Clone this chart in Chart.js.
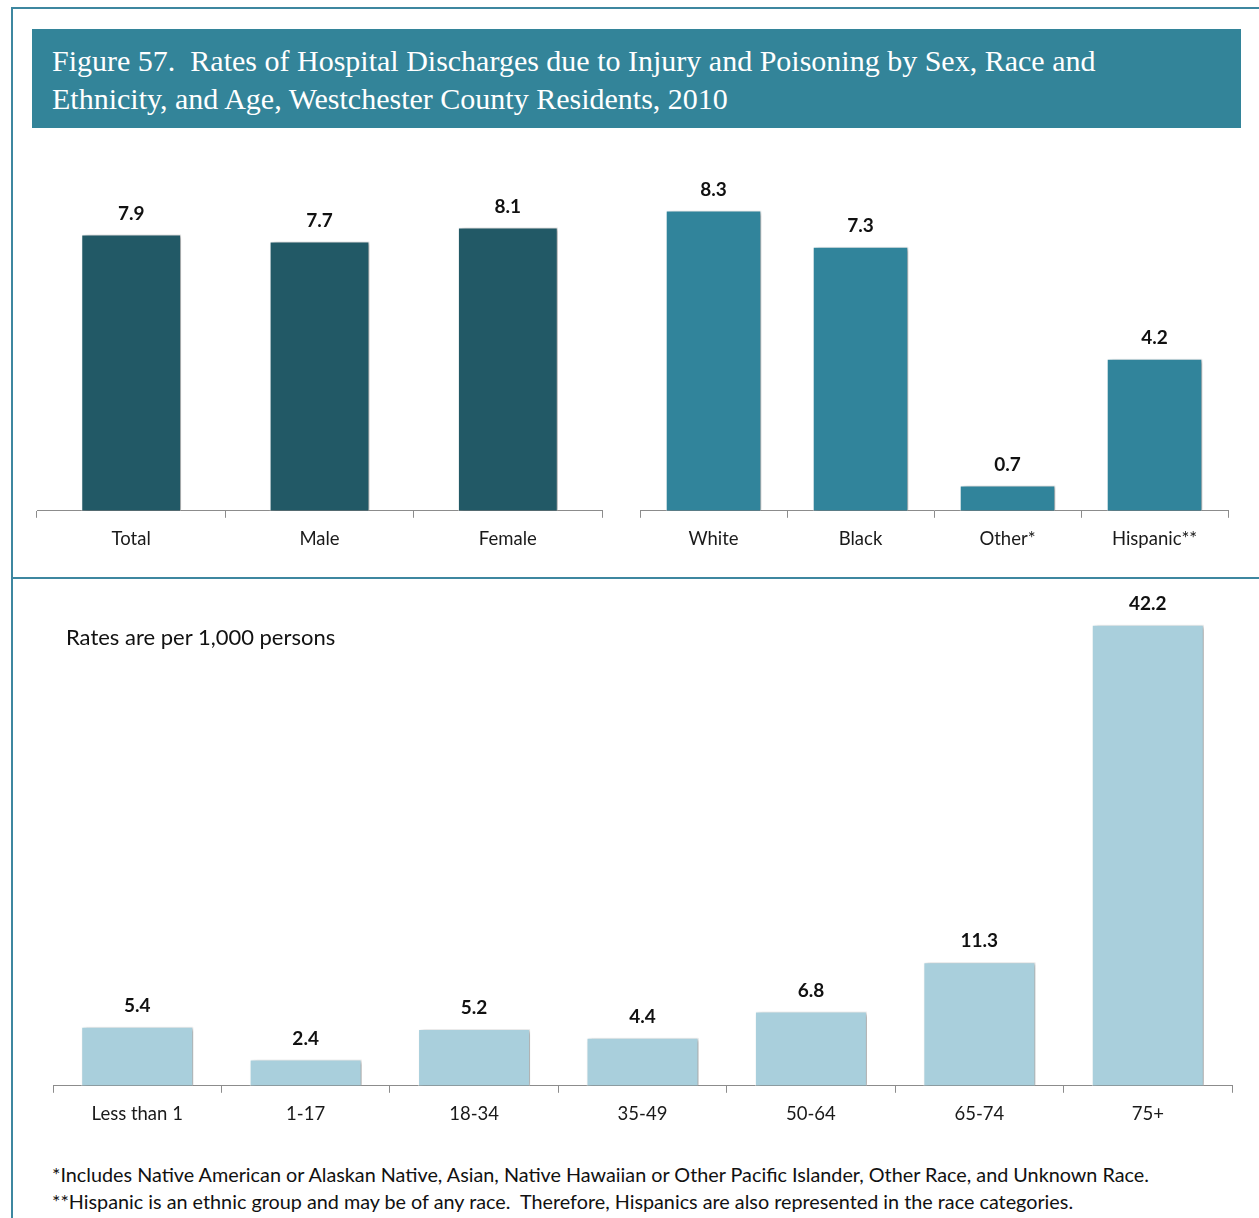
<!DOCTYPE html>
<html>
<head>
<meta charset="utf-8">
<script src="https://cdn.jsdelivr.net/npm/chart.js@4"></script>
<style>
  body { margin: 0; background: #fff; }
  #page { position: relative; width: 1259px; height: 1218px; overflow: hidden; font-family: Lato, "Open Sans", sans-serif; }
  .line { position: absolute; background: #3d87a0; }
  #title { position: absolute; left: 32px; top: 29px; width: 1209px; height: 99px; background: #338499; color: #fff;
           font-family: "Liberation Serif", serif; font-size: 30px; line-height: 38px; box-sizing: border-box; padding: 13px 0 0 20px; }
  .box { position: absolute; }
  #note { position: absolute; left: 66px; top: 623px; font-size: 22px; color: #111; }
  #foot { position: absolute; left: 52px; top: 1161px; font-size: 19.8px; line-height: 27px; color: #111; }
</style>
</head>
<body>
<div id="page">
  <div class="line" style="left:12px; top:7px; width:1247px; height:2px;"></div>
  <div class="line" style="left:11px; top:7px; width:2px; height:1211px;"></div>
  <div class="line" style="left:12px; top:577px; width:1247px; height:2px;"></div>
  <div id="title">Figure 57.&nbsp; Rates of Hospital Discharges due to Injury and Poisoning by Sex, Race and<br>Ethnicity, and Age, Westchester County Residents, 2010</div>

  <div class="box" style="left:30px; top:161px; width:580px; height:400px;"><canvas id="chSex"></canvas></div>
  <div class="box" style="left:630px; top:161px; width:610px; height:400px;"><canvas id="chRace"></canvas></div>
  <div class="box" style="left:40px; top:581px; width:1210px; height:555px;"><canvas id="chAge"></canvas></div>

  <div id="note">Rates are per 1,000 persons</div>
  <div id="foot">*Includes Native American or Alaskan Native, Asian, Native Hawaiian or Other Pacific Islander, Other Race, and Unknown Race.<br>**Hispanic is an ethnic group and may be of any race.&nbsp; Therefore, Hispanics are also represented in the race categories.</div>
</div>

<script>
var sexLabels = ['Total', 'Male', 'Female'];
var sexRates = [7.9, 7.7, 8.1];

var raceLabels = ['White', 'Black', 'Other*', 'Hispanic**'];
var raceRates = [8.3, 7.3, 0.7, 4.2];

var ageLabels = ['Less than 1', '1-17', '18-34', '35-49', '50-64', '65-74', '75+'];
var ageRates = [5.4, 2.4, 5.2, 4.4, 6.8, 11.3, 42.2];

// soft shadow to the right of the bars, like the original
var barShadow = {
    id: 'barShadow',
    beforeDatasetsDraw: function (chart) {
        var ctx = chart.ctx;
        ctx.save();
        ctx.shadowColor = 'rgba(0,0,0,0.35)';
        ctx.shadowOffsetX = 3;
        ctx.shadowOffsetY = 1;
        ctx.shadowBlur = 4;
    },
    afterDatasetsDraw: function (chart) {
        chart.ctx.restore();
    }
};

// value labels above the bars
var valueLabels = {
    id: 'valueLabels',
    afterDraw: function (chart) {
        var ctx = chart.ctx;
        var meta = chart.getDatasetMeta(0);
        var vals = chart.data.datasets[0].data;
        ctx.save();
        ctx.font = 'bold 19px Lato, "Open Sans", sans-serif';
        ctx.fillStyle = '#111';
        ctx.textAlign = 'center';
        ctx.textBaseline = 'middle';
        meta.data.forEach(function (bar, i) {
            ctx.fillText(vals[i].toFixed(1), bar.x, bar.y - 21);
        });
        ctx.restore();
    }
};

function makeBar(id, labels, values, color, barPct, yMax, pad) {
    return new Chart(document.getElementById(id), {
        type: 'bar',
        data: {
            labels: labels,
            datasets: [{
                data: values,
                backgroundColor: color,
                borderColor: '#fff',
                borderWidth: { right: 1, top: 1, left: 1 },
                barPercentage: barPct,
                categoryPercentage: 1
            }]
        },
        options: {
            responsive: true,
            maintainAspectRatio: false,
            animation: false,
            layout: { padding: pad },
            plugins: { legend: { display: false }, tooltip: { enabled: false } },
            scales: {
                x: {
                    offset: true,
                    grid: { display: true, offset: true, drawOnChartArea: false, drawTicks: true, tickLength: 7, color: '#8c8c8c' },
                    border: { display: true, color: '#8c8c8c', width: 1 },
                    ticks: { color: '#1a1a1a', padding: 10, font: { family: 'Lato, "Open Sans", sans-serif', size: 18.5 } }
                },
                y: { display: false, min: 0, max: yMax }
            }
        },
        plugins: [barShadow, valueLabels]
    });
}

makeBar('chSex', sexLabels, sexRates, '#225966', 0.53, 10, { left: 7, right: 8, top: 0, bottom: 1 });
makeBar('chRace', raceLabels, raceRates, '#31849b', 0.65, 9.67, { left: 10, right: 12, top: 0, bottom: 1 });
makeBar('chAge', ageLabels, ageRates, '#a9cfdc', 0.665, 46.2, { left: 13, right: 18, top: 0, bottom: 1 });
</script>
</body>
</html>
